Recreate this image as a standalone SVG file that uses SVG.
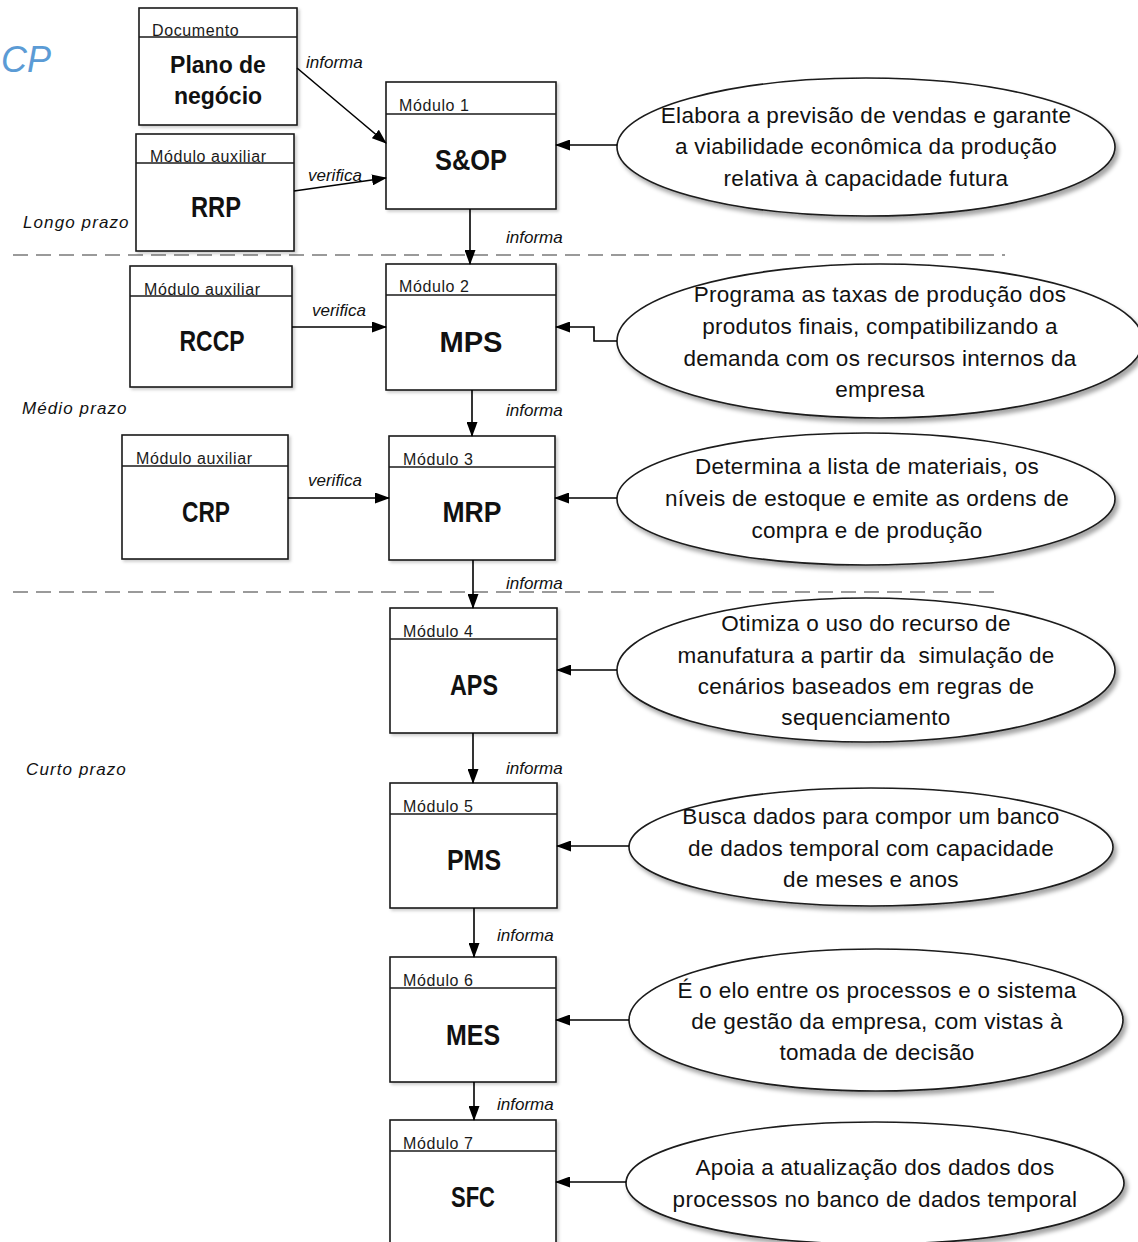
<svg xmlns="http://www.w3.org/2000/svg" width="1138" height="1242" viewBox="0 0 1138 1242">
<defs>
<marker id="arr" markerUnits="userSpaceOnUse" markerWidth="15" markerHeight="11" refX="14" refY="5.5" orient="auto">
<path d="M0,0 L15,5.5 L0,11 z" fill="#000"/>
</marker>
<filter id="sh" x="-5%" y="-5%" width="115%" height="125%">
<feDropShadow dx="3" dy="4" stdDeviation="2" flood-color="#000" flood-opacity="0.35"/>
</filter>
<filter id="shb" x="-5%" y="-5%" width="115%" height="115%">
<feDropShadow dx="2" dy="2" stdDeviation="1.5" flood-color="#000" flood-opacity="0.2"/>
</filter>
</defs>
<style>
.box{fill:#fff;stroke:#1a1a1a;stroke-width:1.6;filter:url(#shb)}
.hdr{stroke:#1a1a1a;stroke-width:1.6}
.ell{fill:#fff;stroke:#1a1a1a;stroke-width:1.6;filter:url(#sh)}
.mod{font-family:"Liberation Sans",Arial,sans-serif;font-size:16px;letter-spacing:0.6px;fill:#1a1a1a}
.ttl{font-family:"Liberation Sans",Arial,sans-serif;font-weight:bold;font-size:30px;fill:#111;text-anchor:middle}
.doc{font-family:"Liberation Sans",Arial,sans-serif;font-weight:bold;font-size:23px;fill:#111;text-anchor:middle}
.desc{font-family:"Liberation Sans",Arial,sans-serif;font-size:22.5px;fill:#111;text-anchor:middle;letter-spacing:0.3px;white-space:pre}
.lbl{font-family:"Liberation Sans",Arial,sans-serif;font-style:italic;font-size:17px;fill:#111}
.zone{font-family:"Liberation Sans",Arial,sans-serif;font-style:italic;font-size:17px;letter-spacing:1.1px;fill:#111}
.con{fill:none;stroke:#000;stroke-width:1.6;marker-end:url(#arr)}
.dash{stroke:#9a9a9a;stroke-width:2;stroke-dasharray:15 8}
</style>
<rect width="1138" height="1242" fill="#fff"/>
<text x="1" y="72" font-family="Liberation Sans, sans-serif" font-style="italic" font-size="36" fill="#5b9bd5">CP</text>

<g id="dividers">
<line class="dash" x1="13" y1="255" x2="1005" y2="255"/>
<line class="dash" x1="13" y1="592" x2="1000" y2="592"/>
</g>
<g id="zones">
<text class="zone" x="23" y="228">Longo prazo</text>
<text class="zone" x="22" y="414">Médio prazo</text>
<text class="zone" x="26" y="775">Curto prazo</text>
</g>

<g id="node-plano">
<rect class="box" x="139" y="8" width="158" height="117"/>
<line class="hdr" x1="139" y1="37" x2="297" y2="37"/>
<text class="mod" x="152" y="36">Documento</text>
<text class="doc" x="218" y="73">Plano de</text>
<text class="doc" x="218" y="104">negócio</text>
</g>
<g id="node-rrp">
<rect class="box" x="136" y="134" width="158" height="117"/>
<line class="hdr" x1="136" y1="163" x2="294" y2="163"/>
<text class="mod" x="150" y="162">Módulo auxiliar</text>
<text class="ttl" x="216" y="217" textLength="50" lengthAdjust="spacingAndGlyphs">RRP</text>
</g>
<g id="node-sop">
<rect class="box" x="386" y="82" width="170" height="127"/>
<line class="hdr" x1="386" y1="114" x2="556" y2="114"/>
<text class="mod" x="399" y="111">Módulo 1</text>
<text class="ttl" x="471" y="170" textLength="72" lengthAdjust="spacingAndGlyphs">S&amp;OP</text>
</g>
<g id="node-rccp">
<rect class="box" x="130" y="266" width="162" height="121"/>
<line class="hdr" x1="130" y1="296" x2="292" y2="296"/>
<text class="mod" x="144" y="295">Módulo auxiliar</text>
<text class="ttl" x="212" y="351" textLength="65" lengthAdjust="spacingAndGlyphs">RCCP</text>
</g>
<g id="node-mps">
<rect class="box" x="386" y="264" width="170" height="126"/>
<line class="hdr" x1="386" y1="295" x2="556" y2="295"/>
<text class="mod" x="399" y="292">Módulo 2</text>
<text class="ttl" x="471" y="352" textLength="63" lengthAdjust="spacingAndGlyphs">MPS</text>
</g>
<g id="node-crp">
<rect class="box" x="122" y="435" width="166" height="124"/>
<line class="hdr" x1="122" y1="466" x2="288" y2="466"/>
<text class="mod" x="136" y="464">Módulo auxiliar</text>
<text class="ttl" x="206" y="522" textLength="48" lengthAdjust="spacingAndGlyphs">CRP</text>
</g>
<g id="node-mrp">
<rect class="box" x="389" y="436" width="166" height="124"/>
<line class="hdr" x1="389" y1="467" x2="555" y2="467"/>
<text class="mod" x="403" y="465">Módulo 3</text>
<text class="ttl" x="472" y="522" textLength="59" lengthAdjust="spacingAndGlyphs">MRP</text>
</g>
<g id="node-aps">
<rect class="box" x="390" y="608" width="167" height="125"/>
<line class="hdr" x1="390" y1="639" x2="557" y2="639"/>
<text class="mod" x="403" y="637">Módulo 4</text>
<text class="ttl" x="474" y="695" textLength="48" lengthAdjust="spacingAndGlyphs">APS</text>
</g>
<g id="node-pms">
<rect class="box" x="390" y="783" width="167" height="125"/>
<line class="hdr" x1="390" y1="814" x2="557" y2="814"/>
<text class="mod" x="403" y="812">Módulo 5</text>
<text class="ttl" x="474" y="870" textLength="54" lengthAdjust="spacingAndGlyphs">PMS</text>
</g>
<g id="node-mes">
<rect class="box" x="390" y="957" width="166" height="125"/>
<line class="hdr" x1="390" y1="988" x2="556" y2="988"/>
<text class="mod" x="403" y="986">Módulo 6</text>
<text class="ttl" x="473" y="1045" textLength="54" lengthAdjust="spacingAndGlyphs">MES</text>
</g>
<g id="node-sfc">
<rect class="box" x="390" y="1120" width="166" height="140"/>
<line class="hdr" x1="390" y1="1151" x2="556" y2="1151"/>
<text class="mod" x="403" y="1149">Módulo 7</text>
<text class="ttl" x="473" y="1207" textLength="44" lengthAdjust="spacingAndGlyphs">SFC</text>
</g>

<g id="desc-1">
<ellipse class="ell" cx="866" cy="147" rx="249" ry="69"/>
<text class="desc" x="866" y="123">Elabora a previsão de vendas e garante</text>
<text class="desc" x="866" y="154">a viabilidade econômica da produção</text>
<text class="desc" x="866" y="186">relativa à capacidade futura</text>
</g>
<g id="desc-2">
<ellipse class="ell" cx="880" cy="341" rx="263" ry="77"/>
<text class="desc" x="880" y="302">Programa as taxas de produção dos</text>
<text class="desc" x="880" y="334">produtos finais, compatibilizando a</text>
<text class="desc" x="880" y="366">demanda com os recursos internos da</text>
<text class="desc" x="880" y="397">empresa</text>
</g>
<g id="desc-3">
<ellipse class="ell" cx="866" cy="499" rx="249" ry="66"/>
<text class="desc" x="867" y="474">Determina a lista de materiais, os</text>
<text class="desc" x="867" y="506">níveis de estoque e emite as ordens de</text>
<text class="desc" x="867" y="538">compra e de produção</text>
</g>
<g id="desc-4">
<ellipse class="ell" cx="866" cy="670" rx="249" ry="72"/>
<text class="desc" x="866" y="631">Otimiza o uso do recurso de</text>
<text class="desc" x="866" y="663" xml:space="preserve">manufatura a partir da  simulação de</text>
<text class="desc" x="866" y="694">cenários baseados em regras de</text>
<text class="desc" x="866" y="725">sequenciamento</text>
</g>
<g id="desc-5">
<ellipse class="ell" cx="871" cy="847" rx="242" ry="59"/>
<text class="desc" x="871" y="824">Busca dados para compor um banco</text>
<text class="desc" x="871" y="856">de dados temporal com capacidade</text>
<text class="desc" x="871" y="887">de meses e anos</text>
</g>
<g id="desc-6">
<ellipse class="ell" cx="876" cy="1020" rx="247" ry="71"/>
<text class="desc" x="877" y="998">É o elo entre os processos e o sistema</text>
<text class="desc" x="877" y="1029">de gestão da empresa, com vistas à</text>
<text class="desc" x="877" y="1060">tomada de decisão</text>
</g>
<g id="desc-7">
<ellipse class="ell" cx="875" cy="1183" rx="249" ry="61"/>
<text class="desc" x="875" y="1175">Apoia a atualização dos dados dos</text>
<text class="desc" x="875" y="1207">processos no banco de dados temporal</text>
</g>

<g id="connectors">
<line class="con" x1="297" y1="68" x2="386" y2="143"/>
<line class="con" x1="294" y1="191" x2="386" y2="178"/>
<line class="con" x1="470" y1="209" x2="470" y2="264"/>
<line class="con" x1="292" y1="327" x2="386" y2="327"/>
<line class="con" x1="472" y1="390" x2="472" y2="436"/>
<line class="con" x1="288" y1="498" x2="389" y2="498"/>
<line class="con" x1="473" y1="560" x2="473" y2="608"/>
<line class="con" x1="473" y1="733" x2="473" y2="783"/>
<line class="con" x1="474" y1="908" x2="474" y2="957"/>
<line class="con" x1="474" y1="1082" x2="474" y2="1120"/>
<line class="con" x1="617" y1="145" x2="556" y2="145"/>
<polyline class="con" points="617,341 594,341 594,327 556,327"/>
<line class="con" x1="617" y1="498" x2="555" y2="498"/>
<line class="con" x1="617" y1="670" x2="557" y2="670"/>
<line class="con" x1="629" y1="846" x2="557" y2="846"/>
<line class="con" x1="629" y1="1020" x2="556" y2="1020"/>
<line class="con" x1="626" y1="1182" x2="556" y2="1182"/>
<text class="lbl" x="306" y="68">informa</text>
<text class="lbl" x="308" y="181">verifica</text>
<text class="lbl" x="506" y="243">informa</text>
<text class="lbl" x="312" y="316">verifica</text>
<text class="lbl" x="506" y="416">informa</text>
<text class="lbl" x="308" y="486">verifica</text>
<text class="lbl" x="506" y="589">informa</text>
<text class="lbl" x="506" y="774">informa</text>
<text class="lbl" x="497" y="941">informa</text>
<text class="lbl" x="497" y="1110">informa</text>
</g>
</svg>
